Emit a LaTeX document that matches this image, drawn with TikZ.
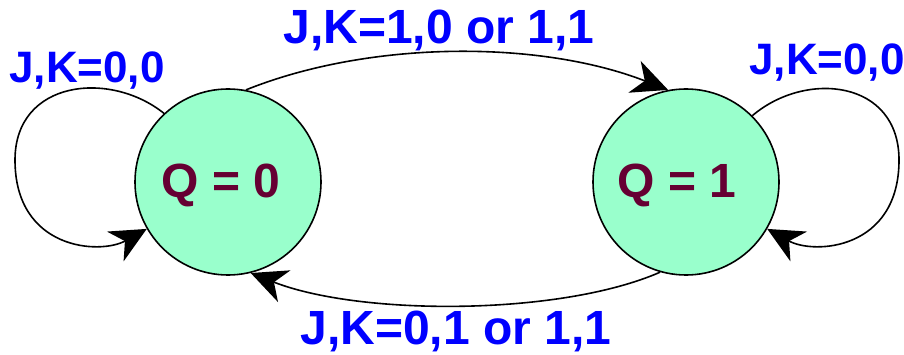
\documentclass[tikz,border=0pt]{standalone}
\usepackage{fontspec}
\setmainfont{Liberation Sans}
\usetikzlibrary{arrows.meta}
\definecolor{mint}{HTML}{99FFCC}
\definecolor{maroon}{HTML}{660033}
\definecolor{lblue}{HTML}{0000FF}
\begin{document}
\begin{tikzpicture}[x=1pt,y=-1pt,
  state/.style={circle,draw=black,line width=1.6pt,fill=mint,minimum size=186pt,inner sep=0pt},
  statetext/.style={text=maroon,font=\fontsize{48}{48}\selectfont\bfseries,inner sep=0pt,anchor=base},
  smalllbl/.style={text=lblue,font=\fontsize{44}{44}\selectfont\bfseries,inner sep=0pt,anchor=base},
  biglbl/.style={text=lblue,font=\fontsize{48}{48}\selectfont\bfseries,inner sep=0pt,anchor=base},
  conn/.style={line width=1.6pt,-{Stealth[length=36pt,width=34pt,inset=11pt]}}]
\useasboundingbox (0,0) rectangle (904,355);
\node[state] (L) at (228,182) {};
\node[state] (R) at (686,182) {};
\node[statetext] (q0) at (221,198) {Q = 0};
\node[statetext] (q1) at (677,198) {Q = 1};
\node[smalllbl] (l00) at (87,83) {J,K=0,0};
\node[smalllbl] (r00) at (827,75) {J,K=0,0};
\node[biglbl] (top) at (439,44) {J,K=1,0 or 1,1};
\node[biglbl] (bot) at (456,344) {J,K=0,1 or 1,1};
\draw[conn] (L.79) .. controls (370,40) and (540,40) .. (R.101);
\draw[conn] (R.-106) .. controls (560,316) and (360,316) .. (L.-76);
\draw[conn] (L.133) .. controls (110,70) and (15,80) .. (15,160)
  .. controls (15,250) and (100,255) .. (L.210);
\draw[conn] (R.45) .. controls (806,70) and (899,80) .. (899,160)
  .. controls (899,250) and (814,255) .. (R.-30);
\end{tikzpicture}
\end{document}
